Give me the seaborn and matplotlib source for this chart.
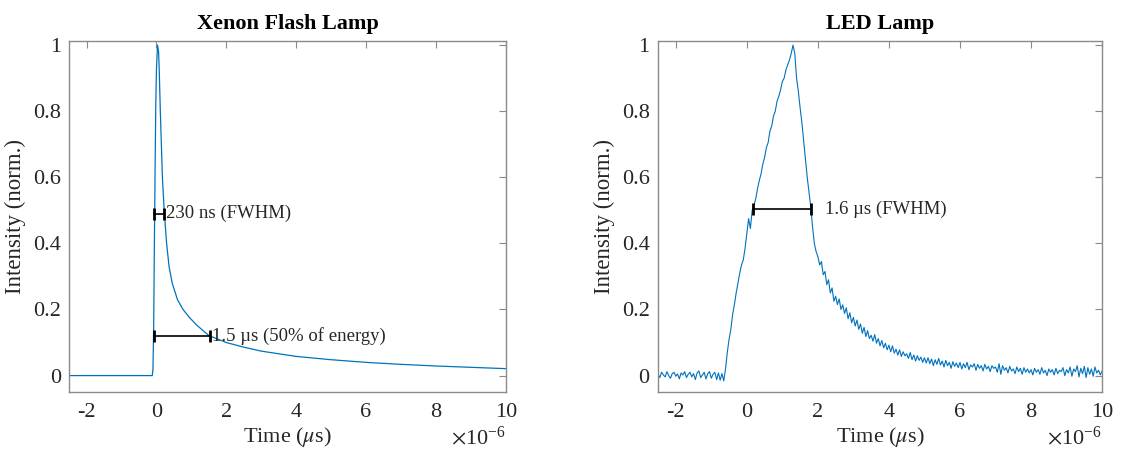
import numpy as np
import pandas as pd
import matplotlib
matplotlib.use("Agg")
import matplotlib.pyplot as plt
import matplotlib.ticker as mticker
import seaborn as sns

# ---- data (time in microseconds, intensity normalised) ----
xenon_t = [-2.5, -0.12, -0.10, -0.08, -0.06, -0.04, -0.02, 0.0, 0.03, 0.06, 0.08,
           0.11, 0.14, 0.17, 0.22, 0.29, 0.36, 0.45, 0.60, 0.76, 0.95, 1.16,
           1.5, 2.0, 2.5, 3.0, 4.0, 5.0, 6.0, 7.0, 8.0, 9.0, 10.0]
xenon_y = [0.0, 0.0, 0.02, 0.15, 0.40, 0.62, 0.82, 0.93, 1.0, 0.98, 0.92,
           0.80, 0.70, 0.60, 0.50, 0.40, 0.33, 0.28, 0.23, 0.20, 0.175, 0.152,
           0.121, 0.100, 0.086, 0.074, 0.058, 0.048, 0.040, 0.034, 0.029, 0.025, 0.021]

# LED trace sampled every 0.05 us from -2.5 to 10 us
led_t_start, led_t_step = -2.5, 0.05
led_base = [0.004, -0.006, 0.010, 0.002, -0.004, 0.012, 0.000, -0.008, 0.006, 0.010,
            -0.002, 0.005, -0.010, 0.008, 0.002, 0.012, -0.006, 0.004, 0.010, -0.004,
            0.006, -0.012, 0.008, 0.014, -0.006, 0.002, 0.010, -0.010, 0.006, 0.012,
            -0.008, 0.004, 0.010, -0.012, 0.008, -0.014, 0.006, -0.016]
led_rise = [0.02, 0.07, 0.11, 0.14, 0.185, 0.215, 0.25, 0.28, 0.31, 0.335,
            0.35, 0.385, 0.43, 0.475, 0.445, 0.50, 0.515, 0.535, 0.565, 0.59,
            0.61, 0.64, 0.66, 0.69, 0.705, 0.74, 0.755, 0.785, 0.80, 0.83,
            0.845, 0.865, 0.89, 0.90, 0.925, 0.94, 0.955, 0.975, 1.00]
led_fall = [0.975, 0.90, 0.86, 0.81, 0.765, 0.71, 0.655, 0.60, 0.555, 0.51,
            0.45, 0.40, 0.375, 0.36, 0.335, 0.345, 0.305, 0.315, 0.275, 0.29,
            0.25, 0.265, 0.225, 0.24]
led_tail = [0.215, 0.232, 0.200, 0.214, 0.188, 0.205, 0.172, 0.190, 0.160, 0.176,
            0.150, 0.168, 0.140, 0.156, 0.128, 0.146, 0.118, 0.136, 0.112, 0.122,
            0.104, 0.124, 0.098, 0.112, 0.090, 0.106, 0.084, 0.098, 0.078, 0.092,
            0.072, 0.090, 0.068, 0.080, 0.062, 0.078, 0.058, 0.072, 0.060, 0.066,
            0.052, 0.070, 0.048, 0.062, 0.044, 0.060, 0.046, 0.056, 0.040, 0.054,
            0.038, 0.054, 0.036, 0.050, 0.030, 0.048, 0.034, 0.052, 0.032, 0.044,
            0.026, 0.046, 0.030, 0.040, 0.022, 0.042, 0.028, 0.038, 0.024, 0.040,
            0.020, 0.036, 0.024, 0.040, 0.018, 0.032, 0.026, 0.036, 0.016, 0.034,
            0.022, 0.030, 0.014, 0.034, 0.020, 0.028, 0.012, 0.030, 0.022, 0.026,
            0.010, 0.036, 0.004, 0.030, 0.016, 0.024, 0.008, 0.028, 0.014, 0.020,
            0.006, 0.026, 0.012, 0.022, 0.004, 0.024, 0.010, 0.020, 0.008, 0.018,
            0.002, 0.022, 0.010, 0.018, 0.004, 0.024, 0.008, 0.016, 0.000, 0.020,
            0.010, 0.018, 0.002, 0.022, 0.006, 0.016, 0.012, 0.024, 0.000, 0.018,
            0.008, 0.026, -0.002, 0.020, 0.012, 0.030, -0.004, 0.022, 0.006, 0.028,
            -0.006, 0.024, 0.004, 0.020, -0.002, 0.026, 0.008, 0.016, 0.002, 0.014]

# annotation brackets: (x0, x1, y) in us / norm. units, label, label x
xenon_marks = [(-0.06, 0.22, 0.49, "230 ns (FWHM)", 0.27),
               (-0.06, 1.53, 0.12, "1.5 \u00b5s (50% of energy)", 1.60)]
led_marks = [(0.18, 1.81, 0.503, "1.6 \u00b5s (FWHM)", 2.2)]

titles = ["Xenon Flash Lamp", "LED Lamp"]

# ---- frames ----
led_y = led_base + led_rise + led_fall + led_tail
led_t = np.round(led_t_start + led_t_step * np.arange(len(led_y)), 2)
df_xe = pd.DataFrame({"t": np.array(xenon_t) * 1e-6, "y": xenon_y})
df_led = pd.DataFrame({"t": led_t * 1e-6, "y": led_y})

sns.set_style("white")
plt.rcParams['font.family'] = ['Liberation Serif', 'DejaVu Serif']
plt.rcParams['mathtext.fontset'] = 'stix'
plt.rcParams['axes.unicode_minus'] = False


class MicroFormatter(mticker.ScalarFormatter):
    # plain hyphen tick labels, offset text kept as x10^-6
    def __call__(self, x, pos=None):
        return f"{x / 10 ** self.orderOfMagnitude:g}"


LINE = '#0072BD'
SPINE = '#8a8a8a'
TXT = '#262626'

fig = plt.figure(figsize=(11.43, 4.57), dpi=100)
ax1 = fig.add_axes([0.0605, 0.142, 0.382, 0.768])
ax2 = fig.add_axes([0.5757, 0.142, 0.3885, 0.768])

sns.lineplot(data=df_xe, x="t", y="y", ax=ax1, color=LINE, lw=0.9, estimator=None)
sns.lineplot(data=df_led, x="t", y="y", ax=ax2, color=LINE, lw=0.8, estimator=None)

for ax, title, marks in [(ax1, titles[0], xenon_marks), (ax2, titles[1], led_marks)]:
    for x0, x1, yv, lab, lx in marks:
        ax.plot([x0 * 1e-6, x1 * 1e-6], [yv, yv], color='black', lw=1.2)
        ax.plot([x0 * 1e-6, x1 * 1e-6], [yv, yv], ls='none', marker='|',
                ms=9, mew=2, color='black')
        ax.text(lx * 1e-6, yv, lab, fontsize=13.5, va='center', ha='left', color=TXT)

    ax.set_xlim(-2.5e-6, 10e-6)
    ax.set_ylim(-0.05, 1.012)
    ax.xaxis.set_major_locator(mticker.MultipleLocator(2e-6))
    ax.yaxis.set_major_locator(mticker.MultipleLocator(0.2))
    fmt = MicroFormatter(useMathText=True)
    fmt.set_powerlimits((-6, -6))
    ax.xaxis.set_major_formatter(fmt)
    ax.yaxis.set_major_formatter(mticker.FuncFormatter(lambda v, p: f"{v:g}"))
    ax.tick_params(direction='in', top=True, right=True, length=5, width=0.8,
                   color=SPINE, labelsize=16, labelcolor=TXT, pad=6)
    ax.tick_params(axis='x', pad=8)
    ax.xaxis.get_offset_text().set_fontsize(16)
    ax.xaxis.get_offset_text().set_color(TXT)
    for s in ax.spines.values():
        s.set_color(SPINE)
        s.set_linewidth(1.0)
    ax.set_title(title, fontsize=16, fontweight='bold', pad=9, color='black')
    ax.set_xlabel(r"Time ($\mu$s)", fontsize=16, color=TXT, labelpad=2)
    ax.set_ylabel("Intensity (norm.)", fontsize=16.5, color=TXT, labelpad=5)
    ax.grid(False)

fig.savefig("out.png", dpi=100)
